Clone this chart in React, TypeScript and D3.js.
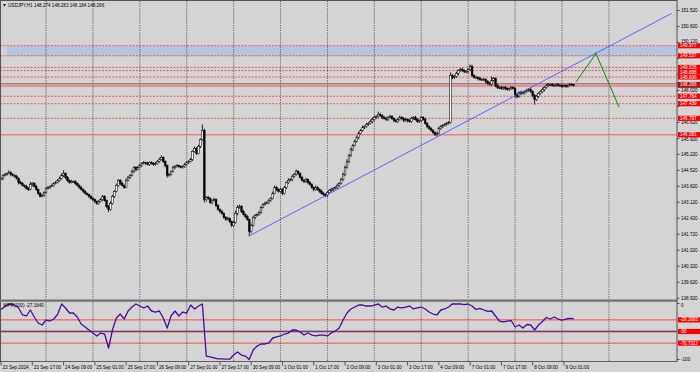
import * as d3 from "d3";
import React from "react";

// USDJPY H1 closes, one row per trading day (23 Sep .. 9 Oct 2024)
const closes = [
  144.12, 144.16, 144.30, 144.34, 144.38, 144.43, 144.34, 144.30, 144.25, 144.16, 143.99, 143.95, 143.86, 143.82, 143.73, 143.68, 143.90, 143.95, 143.82, 143.68, 143.51, 143.38, 143.42, 143.55,
  143.73, 143.77, 143.82, 143.86, 143.95, 143.99, 144.08, 144.16, 144.30, 144.38, 144.21, 144.08, 143.99, 144.03, 144.03, 143.95, 143.86, 143.77, 143.68, 143.60, 143.51, 143.46, 143.38, 143.29,
  143.24, 143.16, 143.07, 143.16, 143.24, 143.38, 143.20, 142.94, 142.81, 143.07, 143.38, 143.60, 143.86, 144.08, 143.95, 143.86, 143.77, 144.08, 144.21, 144.30, 144.47, 144.65, 144.56, 144.65,
  144.73, 144.82, 144.86, 144.82, 144.78, 144.86, 144.82, 144.78, 144.82, 144.91, 145.00, 145.08, 144.91, 144.73, 144.30, 144.34, 144.47, 144.65, 144.69, 144.73, 144.69, 144.65, 144.69, 144.78,
  144.86, 144.91, 145.00, 145.35, 145.48, 145.26, 145.57, 145.87, 146.27, 143.24, 143.33, 143.29, 143.11, 143.20, 143.24, 142.98, 142.81, 142.72, 142.63, 142.46, 142.37, 142.41, 142.28, 142.11,
  142.24, 142.63, 142.90, 142.94, 142.72, 142.59, 142.50, 142.37, 141.84, 142.11, 142.46, 142.55, 142.59, 142.68, 142.90, 143.03, 143.07, 143.11, 143.20, 143.29, 143.51, 143.77, 143.68, 143.60,
  143.68, 143.51, 143.77, 143.99, 144.08, 144.12, 144.25, 144.34, 144.47, 144.38, 144.21, 144.08, 144.03, 144.12, 143.99, 143.90, 143.77, 143.68, 143.77, 143.68, 143.60, 143.51, 143.46, 143.42,
  143.55, 143.64, 143.68, 143.73, 143.77, 143.86, 143.95, 144.12, 144.34, 144.65, 144.91, 145.17, 145.43, 145.61, 145.79, 145.96, 146.14, 146.27, 146.40, 146.44, 146.53, 146.57, 146.66, 146.75,
  146.84, 146.88, 146.97, 146.92, 146.84, 146.79, 146.75, 146.84, 146.88, 146.79, 146.70, 146.66, 146.75, 146.84, 146.79, 146.70, 146.75, 146.70, 146.66, 146.79, 146.84, 146.75, 146.66, 146.70,
  146.84, 146.75, 146.57, 146.44, 146.35, 146.27, 146.18, 146.09, 146.14, 146.35, 146.44, 146.49, 146.53, 146.57, 146.62, 148.67, 148.59, 148.63, 148.76, 148.89, 148.94, 148.89, 148.85, 148.85,
  148.94, 149.07, 148.67, 148.59, 148.59, 148.54, 148.50, 148.50, 148.50, 148.41, 148.32, 148.28, 148.46, 148.54, 148.24, 148.15, 148.15, 148.10, 148.15, 148.10, 148.06, 148.10, 148.15, 148.10,
  147.84, 147.76, 147.93, 147.89, 147.93, 147.97, 148.02, 148.06, 147.97, 147.80, 147.62, 147.76, 147.89, 147.97, 148.06, 148.15, 148.24, 148.28, 148.28, 148.24, 148.24, 148.28, 148.24, 148.24,
  148.19, 148.24, 148.19, 148.24, 148.28, 148.274, 148.266,
];
const firstOpen = 144.1;

// upper / lower shadows in hundredths of a yen
const wickUp = [
  6, 8, 5, 7, 4, 9, 5, 6, 4, 7, 5, 8, 6, 4, 7, 5, 12, 6, 5, 7, 4, 6, 8, 5,
  5, 6, 4, 8, 5, 7, 6, 9, 8, 14, 5, 6, 4, 7, 5, 6, 4, 5, 7, 4, 6, 5, 4, 6,
  6, 5, 4, 7, 8, 6, 5, 4, 6, 9, 7, 5, 8, 6, 5, 7, 4, 9, 6, 5, 8, 6, 5, 7,
  8, 5, 6, 4, 7, 5, 6, 5, 7, 6, 8, 10, 5, 4, 5, 6, 4, 7, 5, 6, 4, 5, 6, 7,
  6, 5, 7, 5, 8, 6, 7, 5, 26, 8, 6, 7, 5, 6, 8, 5, 6, 4, 7, 5, 6, 8, 5, 4,
  7, 12, 9, 8, 6, 7, 5, 6, 4, 8, 7, 6, 5, 7, 6, 5, 8, 6, 7, 5, 8, 9, 6, 5,
  8, 6, 7, 5, 9, 6, 8, 7, 9, 6, 5, 7, 6, 8, 5, 7, 6, 5, 8, 6, 5, 7, 6, 5,
  5, 6, 7, 5, 6, 8, 6, 7, 9, 8, 10, 7, 9, 6, 8, 7, 9, 6, 8, 5, 7, 6, 8, 9,
  8, 6, 12, 7, 5, 6, 8, 5, 7, 6, 5, 7, 6, 8, 5, 6, 7, 5, 6, 8, 5, 7, 6, 5,
  6, 5, 7, 6, 5, 7, 6, 5, 6, 8, 7, 5, 6, 7, 5, 14, 7, 6, 8, 5, 6, 7, 5, 6,
  6, 9, 8, 6, 7, 5, 8, 6, 7, 5, 6, 8, 17, 6, 5, 7, 6, 8, 5, 7, 6, 5, 7, 6,
  6, 7, 5, 8, 6, 5, 7, 6, 8, 5, 6, 7, 5, 6, 8, 5, 7, 6, 5, 6, 7, 5, 6, 7,
  5, 6, 4, 5, 6, 4, 0.9,
];
const wickDn = [
  5, 4, 7, 5, 6, 4, 8, 5, 6, 4, 9, 5, 4, 7, 5, 6, 4, 8, 5, 6, 7, 5, 4, 6,
  6, 5, 7, 4, 6, 5, 4, 6, 5, 7, 8, 6, 5, 4, 6, 7, 5, 6, 4, 7, 5, 6, 8, 5,
  7, 8, 6, 5, 4, 7, 5, 8, 12, 6, 5, 7, 4, 6, 8, 5, 6, 4, 5, 7, 4, 6, 8, 5,
  5, 7, 4, 6, 5, 7, 4, 6, 5, 4, 6, 5, 7, 8, 10, 6, 5, 4, 7, 5, 6, 4, 5, 6,
  5, 6, 4, 7, 5, 6, 4, 8, 5, 13, 9, 7, 6, 8, 5, 7, 6, 8, 5, 7, 6, 5, 7, 8,
  6, 5, 8, 6, 7, 5, 8, 6, 21, 7, 6, 8, 5, 6, 7, 5, 6, 4, 7, 6, 5, 4, 7, 6,
  6, 8, 5, 7, 6, 5, 7, 6, 5, 8, 6, 5, 7, 6, 8, 5, 6, 7, 5, 6, 7, 5, 6, 8,
  7, 5, 6, 8, 5, 6, 7, 5, 6, 7, 5, 8, 6, 7, 5, 6, 8, 5, 6, 7, 5, 6, 4, 7,
  6, 7, 5, 6, 8, 5, 6, 7, 5, 6, 8, 5, 7, 6, 5, 7, 6, 8, 5, 6, 7, 5, 6, 7,
  7, 6, 5, 8, 6, 5, 7, 6, 9, 5, 6, 7, 5, 6, 5, 5, 8, 7, 6, 8, 5, 6, 7, 6,
  8, 6, 7, 5, 6, 8, 5, 7, 6, 8, 5, 6, 7, 5, 8, 6, 7, 5, 6, 8, 5, 7, 6, 5,
  13, 9, 6, 7, 5, 8, 6, 7, 5, 8, 22, 6, 7, 5, 6, 8, 5, 6, 7, 5, 6, 7, 5, 6,
  6, 4, 5, 6, 4, 5, 8.2,
];

// Williams %R, one value every second bar
const wpr = [
  -13.4, -8, -2.7, -0.9, -2.7, -8, -20.5, -22.3, -11.6, -24.1, -34.8, -38.4, -29.5, -31.3, -27.7, -18.8, -0.9, -8, -17, -17, -24.1, -36.6, -42, -47.3,
  -52.7, -58, -52.7, -54.5, -79.5, -47.3, -25.9, -18.8, -27.7, -13.4, -6.3, -0.9, -4.5, -8, -4.5, -13.4, -15.2, -13.4, -25.9, -43.8, -22.3, -13.4, -22.3, -15.2,
  -17, -2.7, -9.8, -4.5, -0.9, -93.8, -95.5, -97.3, -99, -99, -99.5, -99.5, -92, -86.6, -92, -93.8, -100, -83, -76, -72.3, -72.3, -70.5, -61.6, -59.8,
  -58, -54.5, -52.7, -47.3, -47.3, -50.9, -56.3, -52.7, -56.3, -58, -56.3, -56.3, -58, -52.7, -49.1, -43.8, -29.5, -17, -9.8, -6.3, -2.7, -2.7, -4.5, -4.5,
  -2.7, -0.9, -6.3, -4.5, -9.8, -11.6, -6.3, -8, -6.3, -4.5, -9.8, -8, -6.3, -9.8, -15.2, -18.8, -20.5, -11.6, -9.8, -6.3, -0.5, -0.9, -0.5, -2.1,
  -0.9, -4.5, -10.7, -8.6, -11.6, -13.9, -13.4, -22.3, -31.3, -33, -31.3, -30.4, -42, -38.4, -43.8, -37.5, -38.4, -47.3, -38.4, -32.1, -25, -27.7, -24.1, -27.7,
  -29.5, -27.7, -26.8, -27.164,
];
const wprLevels = [-29.2683, -70.7317];
const wprMid = -50;

const dayStartBars = [24, 48, 72, 96, 120, 144, 168, 192, 216, 240, 264, 288, 312];
const timeLabelBars = [1, 17, 33, 49, 65, 81, 97, 113, 129, 145, 161, 177, 193, 209, 225, 241, 257, 273, 289];
const timeLabels = [
  "23 Sep 2024", "23 Sep 17:00", "24 Sep 09:00", "25 Sep 01:00", "25 Sep 17:00", "26 Sep 09:00", "27 Sep 01:00",
  "27 Sep 17:00", "30 Sep 09:00", "1 Oct 01:00", "1 Oct 17:00", "2 Oct 09:00", "3 Oct 01:00", "3 Oct 17:00",
  "4 Oct 09:00", "7 Oct 01:00", "7 Oct 17:00", "8 Oct 09:00", "9 Oct 01:00",
];
const priceTicks = [
  151.52, 150.82, 150.12, 149.42, 148.72, 148.02, 147.32, 146.62, 145.92, 145.22,
  144.52, 143.82, 143.12, 142.42, 141.72, 141.02, 140.32, 139.62, 138.92,
];
const dashedLevels = [149.977, 149.537, 149.026, 148.888, 148.606, 147.764, 147.439, 146.797];
const supportLevel = 146.081;
const solidLevel = 148.24;
const bidPrice = 148.266;
const zone = [149.977, 149.537];
const zoneStartBar = 4;
const trendBars = [128, 344];
const trendPrices = [141.65, 151.39];
const forecastBars = [295.2, 305.4, 317.2];
const forecastPrices = [148.4, 149.63, 147.29];

const FONT = "'Liberation Sans', Arial, sans-serif";
const FS = 4.6;
const RIGHT = 677;

export default function App() {
  const x = d3.scaleLinear().domain([24, 288]).range([46, 562]);
  const y = d3.scaleLinear().domain([138.92, 151.52]).range([298.2, 10.5]);
  const yw = d3.scaleLinear().domain([-100, 0]).range([359.5, 303.5]);

  const candles = closes.map((c, i) => {
    const o = i === 0 ? firstOpen : closes[i - 1];
    return { i, o, c, hi: Math.max(o, c) + wickUp[i] / 100, lo: Math.min(o, c) - wickDn[i] / 100 };
  });

  const wprPath = d3
    .line<number>()
    .x((_, j) => x(j * 2))
    .y((v) => yw(v))(wpr);

  const trend = d3
    .line<number>()
    .x((b) => x(b))
    .y((_, k) => y(trendPrices[k]))(trendBars);

  const forecast = d3
    .line<number>()
    .x((b) => x(b))
    .y((_, k) => y(forecastPrices[k]))(forecastBars);

  // price boxes on the right axis, pushed apart a little so the texts stay readable
  const boxes = [
    ...dashedLevels.map((p) => ({ p, label: p.toFixed(3), bid: false })),
    { p: bidPrice, label: bidPrice.toFixed(3), bid: true },
    { p: supportLevel, label: supportLevel.toFixed(3), bid: false },
  ]
    .map((b) => ({ ...b, yy: y(b.p) }))
    .sort((a, b) => a.yy - b.yy);
  for (let k = 1; k < boxes.length; k++) {
    if (boxes[k].yy - boxes[k - 1].yy < 4.6) boxes[k].yy = boxes[k - 1].yy + 4.6;
  }

  const box = (yy: number, label: string, key: string, fill = "#ff0000", stroke = "none") => (
    <g key={key}>
      <rect x={678} y={yy - 2.6} width={23} height={5.2} fill={fill} stroke={stroke} strokeWidth={0.6} />
      <text x={680} y={yy + 1.6} fontSize={FS} fill="#ffffff" fontFamily={FONT}>{label}</text>
    </g>
  );

  // tick label squeezed between neighbouring price boxes, dropped when hidden under one
  const tickText = (p: number) => {
    const ty = y(p);
    if (boxes.some((b) => Math.abs(b.yy - ty) < 3.2)) return null;
    const above = boxes.filter((b) => b.yy < ty && ty - b.yy < 7);
    const below = boxes.filter((b) => b.yy > ty && b.yy - ty < 7);
    const minBase = above.length ? Math.max(...above.map((b) => b.yy + 2.6 + 3.5)) : -Infinity;
    const maxBase = below.length ? Math.min(...below.map((b) => b.yy - 2.9)) : Infinity;
    if (minBase > maxBase) return null;
    const base = Math.min(maxBase, Math.max(minBase, ty + 1.6));
    return (
      <text x={681} y={base} fontSize={FS} fill="#000">{p.toFixed(3)}</text>
    );
  };

  return (
    <svg width={700} height={372} style={{ position: "absolute", left: 0, top: 0 }} fontFamily={FONT}>
      <defs>
        <clipPath id="mainClip">
          <rect x={1} y={1} width={RIGHT - 1} height={298} />
        </clipPath>
        <clipPath id="indClip">
          <rect x={1} y={302} width={RIGHT - 1} height={59} />
        </clipPath>
      </defs>
      <rect x={0} y={0} width={700} height={372} fill="#d4d4d4" />

      {/* main panel */}
      <g clipPath="url(#mainClip)">
        <rect x={x(zoneStartBar)} y={y(zone[0])} width={RIGHT - x(zoneStartBar)} height={y(zone[1]) - y(zone[0])} fill="#b3c6e0" />
        {dayStartBars.map((b) => (
          <line key={b} x1={x(b)} x2={x(b)} y1={1} y2={299} stroke="#333" strokeWidth={0.7} strokeDasharray="1.2,1.2" />
        ))}
        {dashedLevels.map((p) => (
          <line key={p} x1={0} x2={RIGHT} y1={y(p)} y2={y(p)} stroke="#ff2020" strokeWidth={0.7} strokeDasharray="2,1.4" />
        ))}
        <line x1={0} x2={RIGHT} y1={y(supportLevel)} y2={y(supportLevel)} stroke="#f08080" strokeWidth={1.6} />
        <line x1={0} x2={RIGHT} y1={y(bidPrice) - 1} y2={y(bidPrice) - 1} stroke="#a03838" strokeWidth={0.9} />
        <line x1={0} x2={RIGHT} y1={y(solidLevel) + 0.6} y2={y(solidLevel) + 0.6} stroke="#ff4040" strokeWidth={0.9} />

        {candles.map((d) => {
          const cx = x(d.i);
          const top = y(Math.max(d.o, d.c));
          const h = Math.max(0.8, y(Math.min(d.o, d.c)) - top);
          const bull = d.c >= d.o;
          return (
            <g key={d.i}>
              <line x1={cx} x2={cx} y1={y(d.hi)} y2={y(d.lo)} stroke="#000" strokeWidth={0.85} />
              <rect x={cx - 0.85} y={top} width={1.7} height={h} fill={bull ? "#f2f2f2" : "#000"} stroke="#000" strokeWidth={0.5} />
            </g>
          );
        })}

        <path d={trend || undefined} fill="none" stroke="#4a4aff" strokeWidth={0.8} />
        <path d={forecast || undefined} fill="none" stroke="#0a8a0a" strokeWidth={1} />
        <path
          d={`M${x(forecastBars[1]) - 1.5},${y(forecastPrices[1]) - 1.2} L${x(forecastBars[1]) + 1.5},${y(forecastPrices[1]) - 1.2} L${x(forecastBars[1])},${y(forecastPrices[1]) + 1} Z`}
          fill="#808080"
        />
      </g>

      {/* title */}
      <path d="M3,4.2 L6,4.2 L4.5,6.6 Z" fill="#000" />
      <text x={8} y={6.6} fontSize={FS} fill="#000">USDJPY,H1  148.274 148.283 148.184 148.266</text>

      {/* indicator panel */}
      <g clipPath="url(#indClip)">
        {dayStartBars.map((b) => (
          <line key={b} x1={x(b)} x2={x(b)} y1={302} y2={361} stroke="#333" strokeWidth={0.7} strokeDasharray="1.2,1.2" />
        ))}
        {wprLevels.map((v) => (
          <line key={v} x1={0} x2={RIGHT} y1={yw(v)} y2={yw(v)} stroke="#ff2a2a" strokeWidth={0.8} />
        ))}
        <line x1={0} x2={RIGHT} y1={yw(wprMid) - 0.3} y2={yw(wprMid) - 0.3} stroke="#1a1a5a" strokeWidth={1.1} />
        <line x1={0} x2={RIGHT} y1={yw(wprMid) + 0.7} y2={yw(wprMid) + 0.7} stroke="#ff3030" strokeWidth={0.5} />
        <path d={wprPath || undefined} fill="none" stroke="#4a0d96" strokeWidth={1.3} strokeLinejoin="round" />
      </g>
      <text x={3} y={307} fontSize={FS} fill="#000">WPR(100) -27.1640</text>

      {/* frame */}
      <line x1={0.5} x2={0.5} y1={0} y2={362} stroke="#555" strokeWidth={1} />
      <line x1={0} x2={RIGHT} y1={0.5} y2={0.5} stroke="#555" strokeWidth={1} />
      <rect x={0} y={299.5} width={RIGHT} height={2.2} fill="#707070" />
      <line x1={0} x2={RIGHT} y1={361.5} y2={361.5} stroke="#444" strokeWidth={0.8} />
      <line x1={RIGHT} x2={RIGHT} y1={0} y2={362} stroke="#444" strokeWidth={0.9} />

      {/* price axis */}
      {priceTicks.map((p) => (
        <g key={p}>
          <line x1={RIGHT} x2={RIGHT + 2.5} y1={y(p)} y2={y(p)} stroke="#000" strokeWidth={0.6} />
          {tickText(p)}
        </g>
      ))}
      {boxes.map((b) =>
        b.bid ? box(b.yy, b.label, "bid", "#e00000", "#202020") : box(b.yy, b.label, "l" + b.p)
      )}

      {/* indicator axis */}
      <text x={681} y={yw(0) + 3.2} fontSize={FS} fill="#000">0</text>
      <text x={681} y={yw(-100) + 1} fontSize={FS} fill="#000">-100</text>
      <line x1={RIGHT} x2={RIGHT + 2.5} y1={yw(0)} y2={yw(0)} stroke="#000" strokeWidth={0.6} />
      <line x1={RIGHT} x2={RIGHT + 2.5} y1={yw(-100)} y2={yw(-100)} stroke="#000" strokeWidth={0.6} />
      {wprLevels.map((v) => box(yw(v), v.toFixed(4), "w" + v))}
      {box(yw(wprMid), String(wprMid), "wm")}

      {/* time axis */}
      {timeLabelBars.map((b, k) => (
        <g key={b}>
          <line x1={x(b)} x2={x(b)} y1={362} y2={365.5} stroke="#000" strokeWidth={0.6} />
          <text x={x(b) + 1.5} y={368.5} fontSize={FS} fill="#000">{timeLabels[k]}</text>
        </g>
      ))}
    </svg>
  );
}
